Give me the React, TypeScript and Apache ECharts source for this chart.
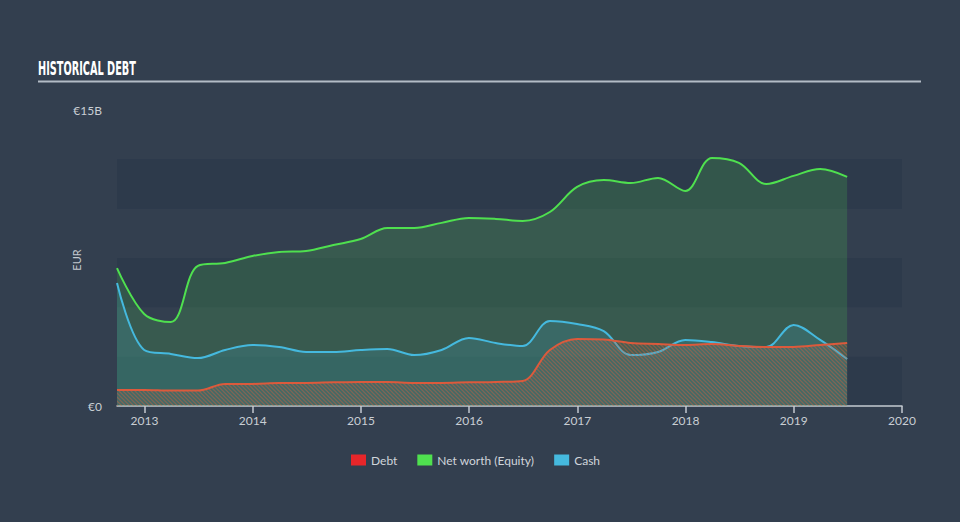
import React, { useEffect, useRef } from "react";
import * as echarts from "echarts";

const periods = [
  "2012-09-30", "2012-12-31", "2013-03-31", "2013-06-30", "2013-09-30", "2013-12-31",
  "2014-03-31", "2014-06-30", "2014-09-30", "2014-12-31", "2015-03-31", "2015-06-30",
  "2015-09-30", "2015-12-31", "2016-03-31", "2016-06-30", "2016-09-30", "2016-12-31",
  "2017-03-31", "2017-06-30", "2017-09-30", "2017-12-31", "2018-03-31", "2018-06-30",
  "2018-09-30", "2018-12-31", "2019-03-31", "2019-06-30",
];
// values in billions of EUR
const debt = [
  0.81, 0.81, 0.78, 0.78, 1.12, 1.12, 1.17, 1.17, 1.2, 1.22, 1.22, 1.17, 1.17, 1.2,
  1.22, 1.27, 2.84, 3.4, 3.37, 3.19, 3.14, 3.09, 3.14, 3.04, 2.99, 2.99, 3.09, 3.19,
];
const netWorth = [
  6.99, 4.66, 4.26, 7.1, 7.25, 7.6, 7.81, 7.86, 8.16, 8.46, 9.02, 9.02, 9.28, 9.53,
  9.48, 9.38, 9.83, 11.1, 11.45, 11.3, 11.56, 10.9, 12.57, 12.32, 11.25, 11.66, 12.01, 11.61,
];
const cash = [
  6.23, 2.84, 2.64, 2.43, 2.84, 3.09, 2.99, 2.74, 2.74, 2.84, 2.89, 2.58, 2.84, 3.45,
  3.19, 3.04, 4.31, 4.16, 3.8, 2.58, 2.74, 3.35, 3.24, 3.04, 2.99, 4.11, 3.35, 2.38,
];
const yearTicks = [2013, 2014, 2015, 2016, 2017, 2018, 2019, 2020];
const yMax = 15;

function toYear(d: string): number {
  const t = Date.parse(d + "T00:00:00Z");
  const y = new Date(t).getUTCFullYear();
  const s = Date.UTC(y, 0, 1);
  const e = Date.UTC(y + 1, 0, 1);
  return y + (t - s) / (e - s);
}

function makeHatch(): string {
  const n = 4;
  const c = document.createElement("canvas");
  c.width = n;
  c.height = n;
  const ctx = c.getContext("2d");
  if (ctx) {
    ctx.fillStyle = "rgba(120,130,125,0.2)";
    ctx.fillRect(0, 0, n, n);
    ctx.strokeStyle = "rgba(222,96,62,0.6)";
    ctx.lineWidth = 1.3;
    ctx.beginPath();
    ctx.moveTo(0, 0);
    ctx.lineTo(n, n);
    ctx.moveTo(-n / 2, n / 2);
    ctx.lineTo(n / 2, n * 1.5);
    ctx.moveTo(n / 2, -n / 2);
    ctx.lineTo(n * 1.5, n / 2);
    ctx.stroke();
  }
  return c.toDataURL();
}

const FONT = "Lato, 'Open Sans', sans-serif";

export default function App() {
  const ref = useRef<HTMLDivElement>(null);
  useEffect(() => {
    document.body.style.margin = "0";
    if (!ref.current) return;
    const chart = echarts.init(ref.current, null, { renderer: "svg" });
    const xs = periods.map(toYear);
    const mk = (arr: number[]) => arr.map((v, i) => [xs[i], v]);
    const hatch = makeHatch();
    const common = { type: "line", smooth: 0.35, showSymbol: false, symbol: "none" };
    chart.setOption({
      animation: false,
      backgroundColor: "#333f4f",
      textStyle: { fontFamily: FONT },
      grid: { left: 117, right: 58, top: 110, bottom: 116 },
      graphic: [
        {
          type: "text",
          left: 38,
          top: 59,
          scaleX: 0.57,
          style: {
            text: "HISTORICAL DEBT",
            fill: "#ffffff",
            fontFamily: "'DejaVu Sans Condensed', 'Liberation Sans Narrow', sans-serif",
            fontWeight: "bold",
            fontSize: 19,
          },
        },
        {
          type: "line",
          shape: { x1: 38, y1: 81.5, x2: 921, y2: 81.5 },
          style: { stroke: "#b3bcc6", lineWidth: 2 },
        },
        {
          type: "text",
          x: 76,
          y: 260,
          rotation: Math.PI / 2,
          style: {
            text: "EUR",
            fill: "#c3c9d0",
            fontFamily: FONT,
            fontSize: 11,
            align: "center",
            verticalAlign: "middle",
          },
        },
      ],
      legend: {
        top: 449,
        left: 346,
        itemWidth: 15,
        itemHeight: 11,
        itemGap: 20,
        icon: "rect",
        textStyle: { color: "#d0d5db", fontSize: 12, fontFamily: FONT },
        data: [
          { name: "Debt", itemStyle: { color: "#e8262a" } },
          { name: "Net worth (Equity)", itemStyle: { color: "#4fe04f" } },
          { name: "Cash", itemStyle: { color: "#45b9de" } },
        ],
      },
      xAxis: {
        type: "value",
        min: toYear(periods[0]),
        max: 2020,
        splitLine: { show: false },
        axisLine: { show: true, lineStyle: { color: "#c4cad1", width: 1.5 } },
        axisTick: {
          show: true,
          customValues: yearTicks,
          length: 7,
          lineStyle: { color: "#c4cad1", width: 1.5 },
        },
        axisLabel: {
          customValues: yearTicks,
          color: "#c9ced4",
          fontSize: 12,
          margin: 8,
          fontFamily: FONT,
          formatter: (v: number) => String(Math.round(v)),
        },
      },
      yAxis: {
        type: "value",
        min: 0,
        max: yMax,
        interval: 2.5,
        splitLine: { show: false },
        axisLine: { show: false },
        axisTick: { show: false },
        splitArea: {
          show: true,
          areaStyle: { color: ["#2d3a4b", "rgba(0,0,0,0)"] },
        },
        axisLabel: {
          color: "#c9ced4",
          fontSize: 12,
          margin: 15,
          fontFamily: FONT,
          formatter: (v: number) => (v === 0 ? "€0" : v === yMax ? "€15B" : ""),
        },
      },
      series: [
        {
          ...common,
          name: "Net worth (Equity)",
          data: mk(netWorth),
          z: 2,
          lineStyle: { color: "#4fe04f", width: 2 },
          itemStyle: { color: "#4fe04f" },
          areaStyle: { color: "rgba(77,219,77,0.25)" },
        },
        {
          ...common,
          name: "Cash",
          data: mk(cash),
          z: 3,
          lineStyle: { color: "#45b9de", width: 2 },
          itemStyle: { color: "#45b9de" },
          areaStyle: { color: "rgba(69,185,222,0.24)" },
        },
        {
          ...common,
          name: "Debt",
          data: mk(debt),
          z: 4,
          lineStyle: { color: "#dc5a3c", width: 2 },
          itemStyle: { color: "#dc5a3c" },
          areaStyle: { color: { image: hatch, repeat: "repeat" } },
        },
      ],
    });
    return () => chart.dispose();
  }, []);
  return <div ref={ref} style={{ width: 960, height: 522 }} />;
}
